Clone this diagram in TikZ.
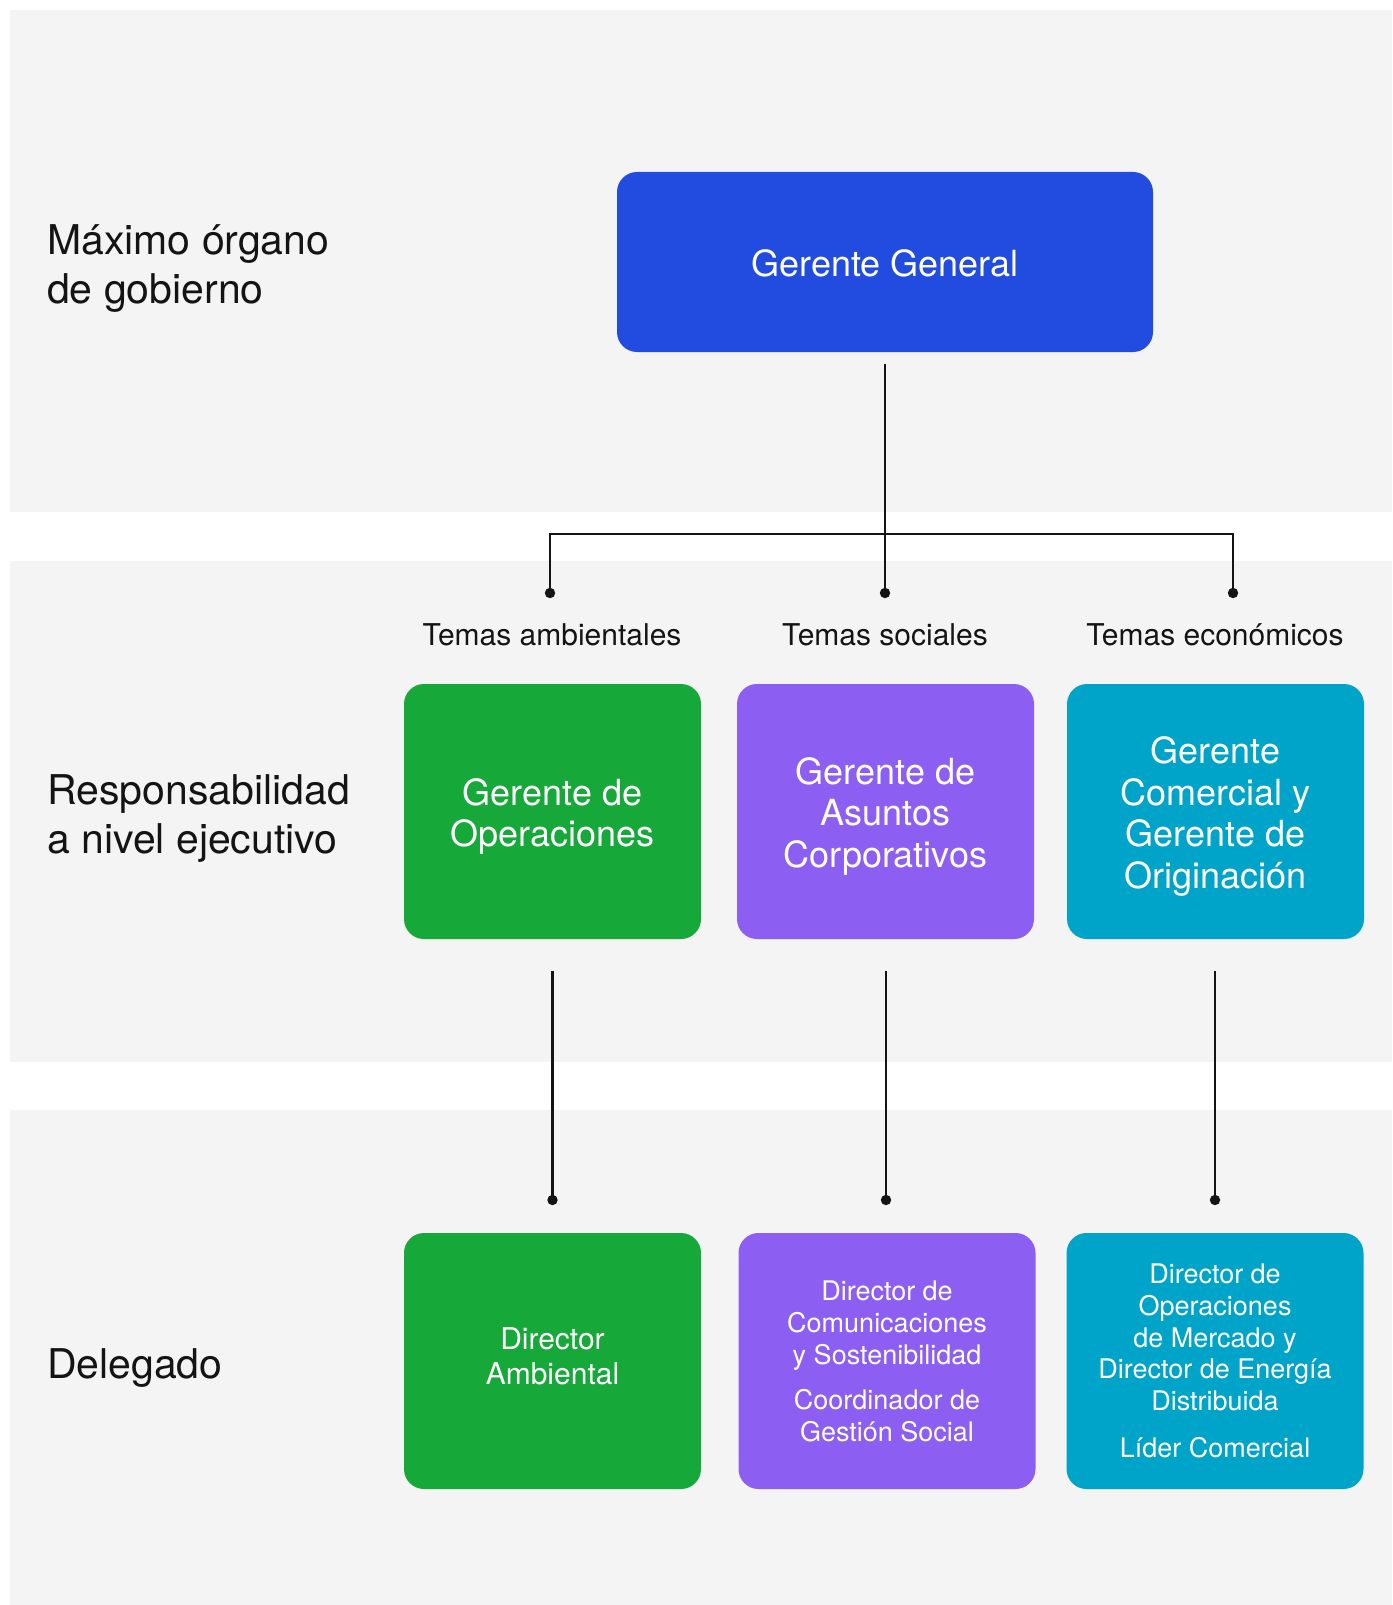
\documentclass[tikz,border=0pt]{standalone}
\usepackage{fontspec}
\setmainfont{TeX Gyre Heros}
\definecolor{panelgray}{HTML}{F4F4F4}
\definecolor{gblue}{HTML}{224CDF}
\definecolor{ggreen}{HTML}{17A83A}
\definecolor{gpurple}{HTML}{8C5EF2}
\definecolor{gcyan}{HTML}{00A4C9}
\definecolor{ink}{HTML}{141414}
\begin{document}
\begin{tikzpicture}[x=1pt,y=-1pt,
  panel/.style={fill=panelgray,draw=none},
  box/.style={fill=#1,draw=none,rounded corners=20pt,inner sep=0pt,minimum width=297pt,minimum height=256pt},
  boxtext/.style={text=white,align=center,inner sep=0pt},
  bigtxt/.style={font=\fontsize{36}{41.5}\selectfont},
  smalltxt/.style={font=\fontsize{27}{31.7}\selectfont},
  lvl/.style={anchor=west,align=left,text=ink,inner sep=0pt,font=\fontsize{41}{49}\selectfont},
  topic/.style={text=ink,inner sep=0pt,font=\fontsize{30}{36}\selectfont},
  conn/.style={draw=ink,line width=2.4pt},
  dot/.style={fill=ink,draw=none}
]
\useasboundingbox (0,0) rectangle (1392,1605);
\fill[white] (0,0) rectangle (1392,1605);
\path[panel] (10,10) rectangle (1392,512);
\path[panel] (10,561) rectangle (1392,1062);
\path[panel] (10,1110) rectangle (1392,1605);

% level labels
\node[lvl] (l1) at (47,269) {Máximo órgano\\de gobierno};
\node[lvl] (l2) at (47,819) {Responsabilidad\\a nivel ejecutivo};
\node[lvl] (l3) at (47,1368) {Delegado};

% top box
\node[box=gblue,minimum width=536pt,minimum height=180pt] (gg) at (885,262) {};
\node[boxtext,bigtxt] (ggt) at (885,263) {Gerente General};

% topics
\node[topic] (ta) at (552,635) {Temas ambientales};
\node[topic] (ts) at (885,635) {Temas sociales};
\node[topic] (te) at (1215,635) {Temas económicos};

% executive boxes
\node[box=ggreen,minimum height=255pt] (go) at (552.5,811.5) {};
\node[box=gpurple,minimum height=255pt] (ga) at (885.5,811.5) {};
\node[box=gcyan,minimum height=255pt] (gc) at (1215.5,811.5) {};
\node[boxtext,bigtxt] (got) at (552.5,816.5) {Gerente de\\Operaciones};
\node[boxtext,bigtxt] (gat) at (885.5,816) {Gerente de\\Asuntos\\Corporativos};
\node[boxtext,bigtxt] (gct) at (1215.5,816.5) {Gerente\\Comercial y\\Gerente de\\Originación};

% delegated boxes
\node[box=ggreen] (da) at (552.5,1361) {};
\node[box=gpurple] (dc) at (887,1361) {};
\node[box=gcyan] (dm) at (1215,1361) {};
\node[boxtext,font=\fontsize{30}{35}\selectfont] (dat) at (552.5,1356) {Director\\Ambiental};
\node[boxtext,smalltxt] (dct) at (887,1361.5) {Director de\\Comunicaciones\\y Sostenibilidad\\[14pt]Coordinador de\\Gestión Social};
\node[boxtext,smalltxt] (dmt) at (1215,1361) {Director de\\Operaciones\\de Mercado y\\Director de Energía\\Distribuida\\[15pt]Líder Comercial};

% tree connectors
\coordinate (j) at (885,534);
\coordinate (d1) at (550,593);
\coordinate (d2) at (885,593);
\coordinate (d3) at (1233,593);
\draw[conn,shorten <=12pt] (gg.south) -- (d2);
\draw[conn,line join=miter] (d1) |- (j) -| (d3);
\fill[dot] (d1) circle (5.2pt);
\fill[dot] (d2) circle (5.2pt);
\fill[dot] (d3) circle (5.2pt);

\coordinate (e1) at (552.5,1200);
\coordinate (e2) at (886,1200);
\coordinate (e3) at (1215,1200);
\draw[conn,shorten <=32pt] (go.south) -- (e1);
\draw[conn,shorten <=32pt] (ga.south -| e2) -- (e2);
\draw[conn,shorten <=32pt] (gc.south -| e3) -- (e3);
\fill[dot] (e1) circle (5.2pt);
\fill[dot] (e2) circle (5.2pt);
\fill[dot] (e3) circle (5.2pt);
\end{tikzpicture}
\end{document}
